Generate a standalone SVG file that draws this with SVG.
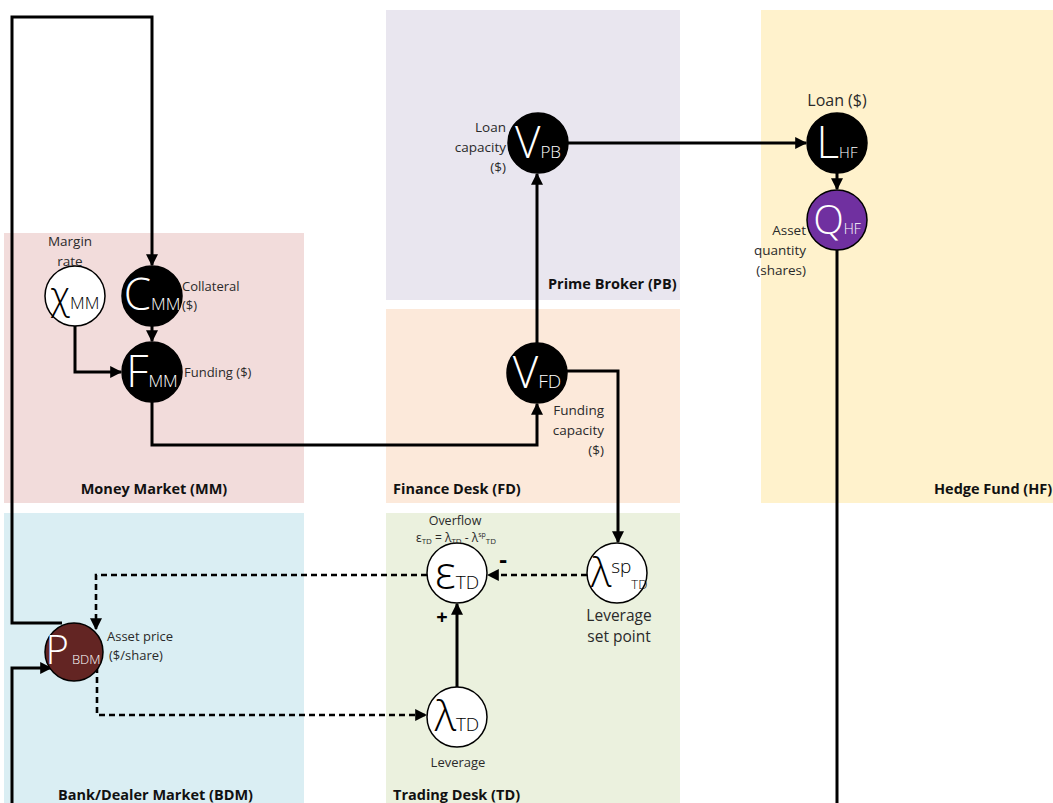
<svg xmlns="http://www.w3.org/2000/svg" width="1053" height="803" viewBox="0 0 1053 803">
<defs>
<marker id="ah" viewBox="0 0 10 10" refX="9" refY="5" markerWidth="12" markerHeight="12" markerUnits="userSpaceOnUse" orient="auto"><path d="M0,0 L10,5 L0,10 z" fill="#000"/></marker>
<style>
.ln{fill:none;stroke:#000;stroke-width:3}
.dl{fill:none;stroke:#000;stroke-width:2.6;stroke-dasharray:6 4}
.t{font-family:"Open Sans","Liberation Sans",sans-serif;fill:#2a2a2a}
.ttl{font-family:"Open Sans","Liberation Sans",sans-serif;fill:#111;font-size:14.5px;font-weight:bold}
.nt{font-family:"Open Sans","Liberation Sans",sans-serif;fill:#fff;font-weight:300}
.nb{font-family:"Open Sans","Liberation Sans",sans-serif;fill:#000;font-weight:300}
.sg{font-family:"Open Sans","Liberation Sans",sans-serif;fill:#000;font-weight:bold}
.cw{fill:#fff;stroke:#000;stroke-width:1.5}
.ck{fill:#000;stroke:#000;stroke-width:1.5}
</style>
</defs>
<rect width="1053" height="803" fill="#fff"/>
<g id="panels">
<rect x="4" y="233" width="300" height="270" fill="#F2DCDB"/>
<rect x="386" y="10" width="294" height="290" fill="#E9E6EF"/>
<rect x="386" y="309" width="294" height="194" fill="#FCE9DA"/>
<rect x="761" y="10" width="292" height="493" fill="#FFF2CC"/>
<rect x="4" y="513" width="300" height="290" fill="#DAEEF3"/>
<rect x="386" y="513" width="294" height="290" fill="#EBF1DE"/>
<text class="ttl" x="154" y="494" text-anchor="middle">Money Market (MM)</text>
<text class="ttl" x="548" y="289">Prime Broker (PB)</text>
<text class="ttl" x="393" y="494">Finance Desk (FD)</text>
<text class="ttl" x="934" y="494">Hedge Fund (HF)</text>
<text class="ttl" x="58" y="800">Bank/Dealer Market (BDM)</text>
<text class="ttl" x="393" y="800">Trading Desk (TD)</text>
</g>
<g id="connectors">
<path class="ln" d="M62,623 H12 V17 H152 V265" marker-end="url(#ah)"/>
<path class="ln" d="M12,803 V668 H51" marker-end="url(#ah)"/>
<path class="ln" d="M837,250 V803"/>
<path class="ln" d="M75,326 V372 H121" marker-end="url(#ah)"/>
<path class="ln" d="M152,326 V341" marker-end="url(#ah)"/>
<path class="ln" d="M152,402 V445 H537 V404" marker-end="url(#ah)"/>
<path class="ln" d="M537,343 V174" marker-end="url(#ah)"/>
<path class="ln" d="M567,143 H806" marker-end="url(#ah)"/>
<path class="ln" d="M837,173 V189" marker-end="url(#ah)"/>
<path class="ln" d="M567,371 H618 V542" marker-end="url(#ah)"/>
<path class="dl" d="M587,575 H488" marker-end="url(#ah)"/>
<path class="ln" d="M457,687 V604" marker-end="url(#ah)"/>
<path class="dl" d="M427,575 H96 V629" marker-end="url(#ah)"/>
<path class="dl" d="M97,667 V715 H426" marker-end="url(#ah)"/>
</g>
<g id="chiMM">
<circle class="cw" cx="75" cy="296" r="30"/>
<text class="nb" x="75" y="309" text-anchor="middle"><tspan font-size="38">χ</tspan><tspan font-size="17">MM</tspan></text>
<text class="t" x="70" y="246" text-anchor="middle" font-size="13.5">Margin</text>
<text class="t" x="70" y="266" text-anchor="middle" font-size="13.5">rate</text>
</g>
<g id="CMM">
<circle class="ck" cx="152" cy="296" r="30"/>
<text class="nt" x="152" y="310" text-anchor="middle"><tspan font-size="44">C</tspan><tspan font-size="17">MM</tspan></text>
<text class="t" x="182" y="291" font-size="13">Collateral</text>
<text class="t" x="182" y="310" font-size="13">($)</text>
</g>
<g id="FMM">
<circle class="ck" cx="152" cy="372" r="30"/>
<text class="nt" x="152" y="387" text-anchor="middle"><tspan font-size="44">F</tspan><tspan font-size="17">MM</tspan></text>
<text class="t" x="184" y="377" font-size="13">Funding ($)</text>
</g>
<g id="VPB">
<circle class="ck" cx="538" cy="143" r="30"/>
<text class="nt" x="538" y="158" text-anchor="middle"><tspan font-size="44">V</tspan><tspan font-size="17">PB</tspan></text>
<text class="t" x="506" y="132" text-anchor="end" font-size="13.5">Loan</text>
<text class="t" x="506" y="152" text-anchor="end" font-size="13.5">capacity</text>
<text class="t" x="506" y="172" text-anchor="end" font-size="13.5">($)</text>
</g>
<g id="VFD">
<circle class="ck" cx="537" cy="373" r="30"/>
<text class="nt" x="537" y="388" text-anchor="middle"><tspan font-size="44">V</tspan><tspan font-size="19">FD</tspan></text>
<text class="t" x="604" y="415" text-anchor="end" font-size="13.5">Funding</text>
<text class="t" x="604" y="435" text-anchor="end" font-size="13.5">capacity</text>
<text class="t" x="604" y="455" text-anchor="end" font-size="13.5">($)</text>
</g>
<g id="LHF">
<circle class="ck" cx="837" cy="143" r="30"/>
<text class="nt" x="837" y="158" text-anchor="middle"><tspan font-size="44">L</tspan><tspan font-size="15">HF</tspan></text>
<text class="t" x="837" y="106" text-anchor="middle" font-size="16">Loan ($)</text>
</g>
<g id="QHF">
<circle cx="837" cy="220" r="30" fill="#7030A0" stroke="#000" stroke-width="1.5"/>
<text class="nt" x="837" y="234" text-anchor="middle"><tspan font-size="40">Q</tspan><tspan font-size="14">HF</tspan></text>
<text class="t" x="806" y="235" text-anchor="end" font-size="13.5">Asset</text>
<text class="t" x="806" y="255" text-anchor="end" font-size="13.5">quantity</text>
<text class="t" x="806" y="275" text-anchor="end" font-size="13.5">(shares)</text>
</g>
<g id="PBDM">
<circle cx="74" cy="652" r="29" fill="#632523" stroke="#000" stroke-width="1.5"/>
<text class="nt" x="73" y="664" text-anchor="middle"><tspan font-size="40">P</tspan><tspan font-size="13" dx="3">BDM</tspan></text>
<text class="t" x="107" y="641" font-size="13">Asset price</text>
<text class="t" x="109" y="660" font-size="13">($/share)</text>
</g>
<g id="epsTD">
<circle class="cw" cx="457" cy="573" r="30"/>
<text class="nb" x="457" y="589" text-anchor="middle"><tspan font-size="46">ε</tspan><tspan font-size="19">TD</tspan></text>
<text class="t" x="455" y="525" text-anchor="middle" font-size="12.5">Overflow</text>
<text class="t" x="456" y="542" text-anchor="middle" font-size="12">ε<tspan font-size="8" baseline-shift="-2">TD</tspan> = λ<tspan font-size="8" baseline-shift="-2">TD</tspan> - λ<tspan font-size="7" baseline-shift="5">sp</tspan><tspan font-size="8" baseline-shift="-2">TD</tspan></text>
<text class="sg" x="503" y="568" text-anchor="middle" font-size="24">-</text>
<text class="sg" x="442" y="624" text-anchor="middle" font-size="20">+</text>
</g>
<g id="lamspTD">
<circle class="cw" cx="617" cy="573" r="30"/>
<text class="nb" x="591" y="587"><tspan font-size="40">λ</tspan><tspan font-size="19" dy="-14">sp</tspan><tspan font-size="13" dy="16">TD</tspan></text>
<text class="t" x="619" y="621" text-anchor="middle" font-size="15.5">Leverage</text>
<text class="t" x="619" y="642" text-anchor="middle" font-size="15.5">set point</text>
</g>
<g id="lamTD">
<circle class="cw" cx="457" cy="717" r="30"/>
<text class="nb" x="457" y="731" text-anchor="middle"><tspan font-size="42">λ</tspan><tspan font-size="19">TD</tspan></text>
<text class="t" x="458" y="767" text-anchor="middle" font-size="13">Leverage</text>
</g>
</svg>
